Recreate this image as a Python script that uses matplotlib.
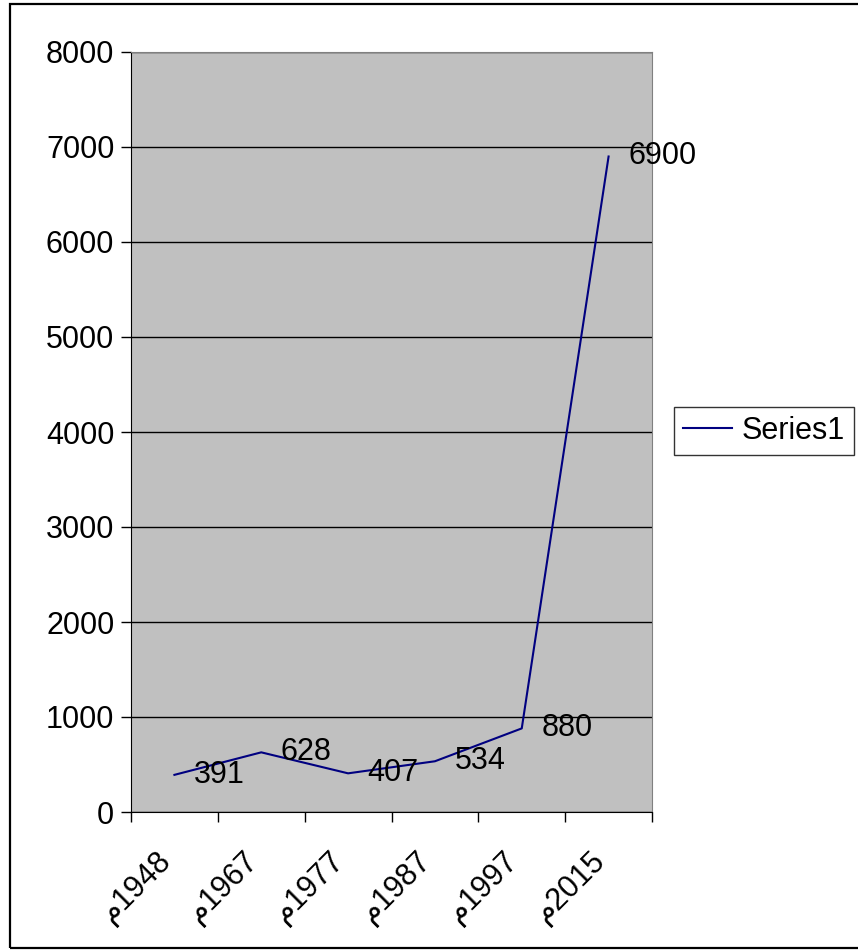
import matplotlib
matplotlib.use("Agg")
import matplotlib.pyplot as plt
from matplotlib.patches import Rectangle
from matplotlib.transforms import ScaledTranslation

# --- data ---
years = ["1948", "1967", "1977", "1987", "1997", "2015"]
values = [391, 628, 407, 534, 880, 6900]
series_name = "Series1"

FONT = ["Liberation Sans", "DejaVu Sans"]
plt.rcParams["font.family"] = FONT

W, H = 858, 950
fig = plt.figure(figsize=(W / 100, H / 100), dpi=100)

# outer chart border (right side runs off the picture)
fig.patches.append(Rectangle((10 / W, 2 / H), 1.2, 944 / H,
                             transform=fig.transFigure, fill=False,
                             edgecolor="black", lw=1.6))

ax = fig.add_axes([131 / W, (950 - 812) / H, (652 - 131) / W, (812 - 52) / H])
ax.set_facecolor("#C0C0C0")

x = list(range(1, len(values) + 1))
line, = ax.plot(x, values, color="#000080", lw=1.5, label=series_name)

ax.set_xlim(0.5, len(values) + 0.5)
ax.set_ylim(0, 8000)

# y axis
ax.set_yticks(range(0, 8001, 1000))
ax.tick_params(axis="y", direction="out", length=7, width=1, pad=5,
               labelsize=22, colors="black")
ax.yaxis.grid(True, color="black", lw=1)
ax.set_axisbelow(True)

# x axis: tick marks between categories, labels at centres
ax.set_xticks([i + 0.5 for i in range(0, len(values) + 1)])
ax.set_xticklabels([])
ax.tick_params(axis="x", which="major", direction="out", length=7, width=1)
ax.set_xticks(x, minor=True)
ax.set_xticklabels(["\u0645" + y for y in years], minor=True)
ax.tick_params(axis="x", which="minor", length=0, pad=32, labelsize=22)
shift = ScaledTranslation(-8 / 100, 0, fig.dpi_scale_trans)
for lab in ax.get_xticklabels(minor=True):
    lab.set_rotation(45)
    lab.set_rotation_mode("anchor")
    lab.set_ha("right")
    lab.set_va("center")
    lab.set_transform(lab.get_transform() + shift)

for side in ["top", "right"]:
    ax.spines[side].set_color("#808080")
for side in ["left", "bottom"]:
    ax.spines[side].set_color("black")

# data labels
for xi, v in zip(x, values):
    ax.annotate(str(v), (xi, v), xytext=(14, 0), textcoords="offset points",
                ha="left", va="center", fontsize=22, annotation_clip=False)

leg = fig.legend(handles=[line], loc="center left",
                 bbox_to_anchor=(674 / W, (950 - 431) / H),
                 fontsize=22, frameon=True, fancybox=False,
                 handlelength=1.6, handletextpad=0.3, borderpad=0.3,
                 borderaxespad=0)
leg.get_frame().set_edgecolor("black")
leg.get_frame().set_linewidth(1)

fig.savefig("out.png", dpi=100)
